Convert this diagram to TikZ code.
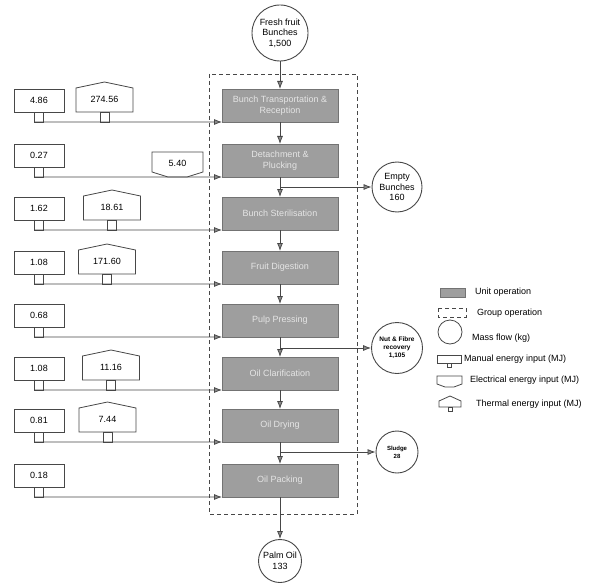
\documentclass[tikz,border=0pt]{standalone}
\usepackage{fontspec}
\setmainfont{Liberation Sans}
\usetikzlibrary{positioning, arrows.meta, calc}
\colorlet{lineCol}{black!72}
\colorlet{unitFill}{black!38}
\tikzstyle{flow}=[draw=lineCol, line width=0.8pt]
\tikzstyle{arrow}=[->, >={Latex[length=8bp,width=6bp,fill=black!45]}, flow]
\tikzstyle{unitOp}=[draw=black!55, fill=unitFill, text=black!10, minimum width=116bp,
  minimum height=33bp, align=center, inner sep=1bp, outer sep=0pt,
  font=\fontsize{9bp}{10.5bp}\selectfont]
\tikzstyle{groupOp}=[draw=lineCol, line width=1pt, dash pattern=on 4bp off 3bp]
\tikzstyle{massFlow}=[circle, draw=lineCol, line width=0.9pt, align=center, inner sep=0pt,
  font=\fontsize{9bp}{10.5bp}\selectfont]
\tikzstyle{numBox}=[draw=lineCol, line width=0.8pt, minimum width=50bp, minimum height=23bp,
  inner sep=0pt, font=\fontsize{9bp}{10bp}\selectfont]
\tikzstyle{numText}=[inner sep=0pt, font=\fontsize{9bp}{10bp}\selectfont]
\tikzstyle{legendText}=[anchor=west, inner sep=0pt, font=\fontsize{9bp}{10bp}\selectfont]

\begin{document}
\begin{tikzpicture}[x=1bp, y=-1bp]
  \useasboundingbox[fill=white] (0,0) rectangle (590,583);

  % group operation
  \draw[groupOp] (209,74) rectangle (357,514);

  % unit operations with manual inputs
  \foreach \i/\L/\man/\txt in {
      1/122/4.86/{Bunch Transportation \&\\Reception},
      2/177/0.27/{Detachment \&\\Plucking},
      3/230/1.62/{Bunch Sterilisation},
      4/284/1.08/{Fruit Digestion},
      5/337/0.68/{Pulp Pressing},
      6/390/1.08/{Oil Clarification},
      7/442/0.81/{Oil Drying},
      8/497/0.18/{Oil Packing}} {
    \node[unitOp] (u\i) at (280,\L-16.5) {\txt};
    \node[numBox] (m\i) at (39,\L-21.5) {\man};
    \coordinate (t\i) at (34,\L);
    \draw[flow] (t\i) rectangle ++(9,-10);
    \draw[arrow] (t\i) -- (u\i.south west);
  }

  % thermal inputs
  \foreach \i/\L/\xc/\val in {1/122/104.5/274.56, 3/230/112/18.61, 4/284/107/171.60,
      6/390/111/11.16, 7/442/107.5/7.44} {
    \draw[flow] (\xc-28.5,\L-10) -- ++(0,-24) -- (\xc,\L-40) -- (\xc+28.5,\L-34)
      -- (\xc+28.5,\L-10) -- cycle;
    \draw[flow] (\xc-4.5,\L-10) rectangle (\xc+4.5,\L);
    \node[numText] (th\i) at (\xc,\L-23) {\val};
  }

  % electrical input
  \draw[flow] (152,172) -- (152,152) -- (203,152) -- (203,172) -- (187,177)
    -- (168,177) -- cycle;
  \node[numText] (el2) at (177.5,163) {5.40};

  % mass flows
  \node[massFlow, minimum size=56bp] (ffb) at (280,33) {Fresh fruit\\Bunches\\1,500};
  \node[massFlow, minimum size=50bp] (eb) at (397,187) {Empty\\Bunches\\160};
  \node[massFlow, minimum size=51bp, font=\fontsize{6.5bp}{8bp}\selectfont\bfseries]
    (nf) at (397,348) {Nut \& Fibre\\recovery\\1,105};
  \node[massFlow, minimum size=42bp, font=\fontsize{6bp}{8bp}\selectfont\bfseries]
    (sl) at (397,452) {Sludge\\28};
  \node[massFlow, minimum size=43bp] (po) at (280,561) {Palm Oil\\133};

  \draw[arrow] (ffb) -- (u1);
  \foreach \a/\b in {1/2, 2/3, 3/4, 4/5, 5/6, 6/7, 7/8}
    \draw[arrow] (u\a) -- (u\b);
  \draw[arrow] (u8) -- (po);

  \coordinate (b1) at (280,187);
  \coordinate (b2) at (280,348);
  \coordinate (b3) at (280,452);
  \draw[arrow] (b1) -- (eb);
  \draw[arrow] (b2) -- (nf);
  \draw[arrow] (b3) -- (sl);

  % legend
  \draw[draw=black!55, fill=unitFill] (440,288) rectangle (465,297);
  \node[legendText] (lg1) at (475,292) {Unit operation};
  \draw[groupOp, line width=0.8pt] (438,308) rectangle (466,317);
  \node[legendText] (lg2) at (477,313) {Group operation};
  \draw[flow] (450,332) circle (12);
  \node[legendText] (lg3) at (472,338) {Mass flow (kg)};
  \draw[flow] (437,355) rectangle (461,363);
  \draw[flow] (447,363) rectangle (451,367);
  \node[legendText] (lg4) at (464,359) {Manual energy input (MJ)};
  \draw[flow] (437,384) -- (437,376) -- (462,376) -- (462,384) -- (454,387)
    -- (445,387) -- cycle;
  \node[legendText] (lg5) at (470,380) {Electrical energy input (MJ)};
  \draw[flow] (439,407) -- (439,401) -- (450,396) -- (461,401) -- (461,407) -- cycle;
  \draw[flow] (448,407) rectangle (452,411);
  \node[legendText] (lg6) at (476,404) {Thermal energy input (MJ)};
\end{tikzpicture}
\end{document}
